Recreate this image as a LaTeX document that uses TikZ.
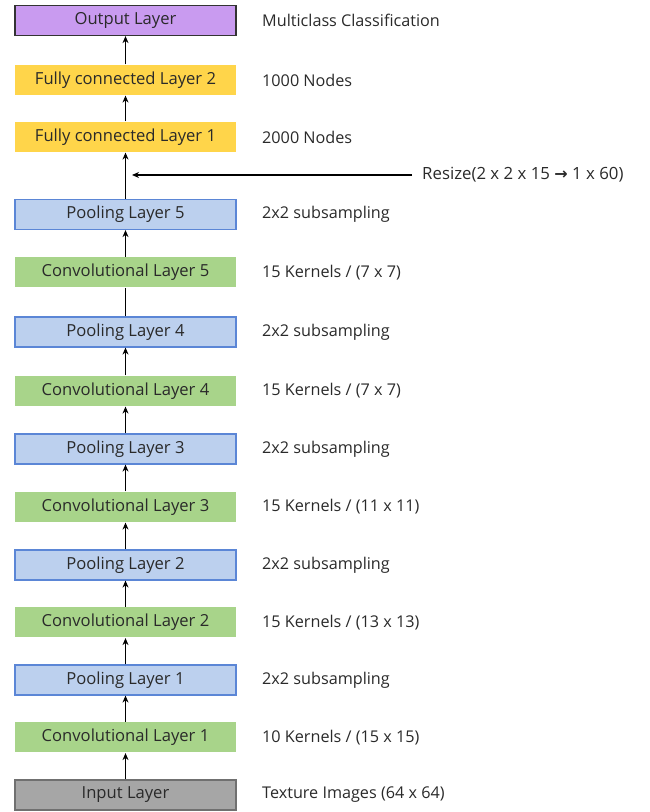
\documentclass[tikz,border=0pt]{standalone}
\usepackage{fontspec}
\setmainfont{Open Sans}
\usetikzlibrary{arrows.meta}
\definecolor{outfill}{HTML}{C99BF0}
\definecolor{fcfill}{HTML}{FFD54A}
\definecolor{poolfill}{HTML}{BCD0EE}
\definecolor{pooldraw}{HTML}{5B86D6}
\definecolor{convfill}{HTML}{A8D48A}
\definecolor{inpfill}{HTML}{A6A6A6}
\definecolor{inpdraw}{HTML}{707070}
\definecolor{txt}{HTML}{2A2A2A}
\begin{document}
\begin{tikzpicture}[x=1pt,y=1pt,
  layer/.style={minimum width=221pt,minimum height=30pt,inner sep=0pt,font=\fontsize{16.6}{18}\selectfont,text=txt,line width=1.2pt},
  outl/.style={layer,fill=outfill,draw=black!80},
  fcl/.style={layer,fill=fcfill},
  pooll/.style={layer,fill=poolfill,draw=pooldraw},
  convl/.style={layer,fill=convfill},
  inpl/.style={layer,fill=inpfill,draw=inpdraw},
  desc/.style={anchor=west,inner sep=0pt,font=\fontsize{16.2}{18}\selectfont,text=txt},
  conn/.style={line width=1.5pt,-{Stealth[length=7pt,width=6pt]}},
  plainconn/.style={line width=1.5pt}
]
\useasboundingbox (0,0) rectangle (649,812);
\node[outl]  (out)  at (125.5,791.5) {Output Layer};
\node[fcl]   (fc2)  at (125.5,732)   {Fully connected Layer 2};
\node[fcl]   (fc1)  at (125.5,675)   {Fully connected Layer 1};
\node[pooll] (p5)   at (125.5,597.5) {Pooling Layer 5};
\node[convl] (c5)   at (125.5,539.5) {Convolutional Layer 5};
\node[pooll] (p4)   at (125.5,480)   {Pooling Layer 4};
\node[convl] (c4)   at (125.5,421)   {Convolutional Layer 4};
\node[pooll] (p3)   at (125.5,363)   {Pooling Layer 3};
\node[convl] (c3)   at (125.5,305)   {Convolutional Layer 3};
\node[pooll] (p2)   at (125.5,247)   {Pooling Layer 2};
\node[convl] (c2)   at (125.5,189.5) {Convolutional Layer 2};
\node[pooll] (p1)   at (125.5,132)   {Pooling Layer 1};
\node[convl] (c1)   at (125.5,74.5)  {Convolutional Layer 1};
\node[inpl]  (inp)  at (125.5,17)    {Input Layer};

\node[desc] (dout) at (262,791.5) {Multiclass Classification};
\node[desc] (dfc2) at (262,732)   {1000 Nodes};
\node[desc] (dfc1) at (262,675)   {2000 Nodes};
\node[desc] (dp5)  at (262,597.5) {2x2 subsampling};
\node[desc] (dc5)  at (262,539.5) {15 Kernels / (7 x 7)};
\node[desc] (dp4)  at (262,480)   {2x2 subsampling};
\node[desc] (dc4)  at (262,421)   {15 Kernels / (7 x 7)};
\node[desc] (dp3)  at (262,363)   {2x2 subsampling};
\node[desc] (dc3)  at (262,305)   {15 Kernels / (11 x 11)};
\node[desc] (dp2)  at (262,247)   {2x2 subsampling};
\node[desc] (dc2)  at (262,189.5) {15 Kernels / (13 x 13)};
\node[desc] (dp1)  at (262,132)   {2x2 subsampling};
\node[desc] (dc1)  at (262,74.5)  {10 Kernels / (15 x 15)};
\node[desc] (dinp) at (262,17)    {Texture Images (64 x 64)};

\node[desc,font=\fontsize{16.8}{18}\selectfont] (dres) at (422,637) {Resize(2 x 2 x 15 {\fontspec{DejaVu Sans}\fontsize{16}{18}\selectfont\textbf{→}} 1 x 60)};

\draw[conn] (fc2) -- (out);
\draw[conn] (fc1) -- (fc2);
\draw[conn] (p5) -- (fc1);
\draw[conn] (c5) -- (p5);
\draw[plainconn] (p4) -- (c5);
\draw[conn] (c4) -- (p4);
\draw[conn] (p3) -- (c4);
\draw[conn] (c3) -- (p3);
\draw[conn] (p2) -- (c3);
\draw[conn] (c2) -- (p2);
\draw[conn] (p1) -- (c2);
\draw[conn] (c1) -- (p1);
\draw[conn] (inp) -- (c1);
\coordinate (rtip) at (132,637);
\draw[conn] (dres.west) ++(-10,0) -- (rtip);
\end{tikzpicture}
\end{document}
